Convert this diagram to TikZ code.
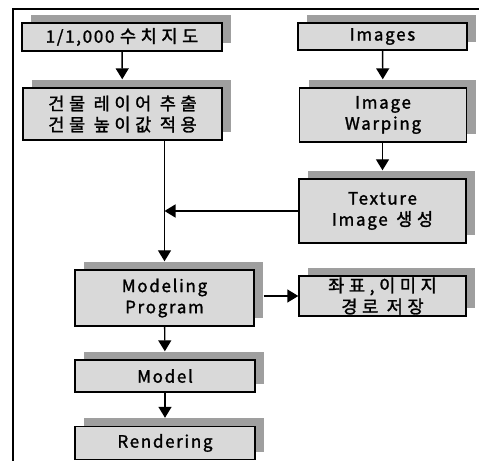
\documentclass[tikz,border=0pt]{standalone}
\usepackage{fontspec}
\setmainfont[LetterSpace=10,FakeBold=1.5]{Noto Sans CJK KR}
\newfontfamily\kor[LetterSpace=26,FakeBold=1.5]{Noto Sans CJK KR}
\usepackage{tikz}
\usetikzlibrary{positioning}
\usetikzlibrary{shadows}
\usetikzlibrary{arrows.meta}
\usepackage{xcolor}

\newcommand{\hk}[1]{{\kor\fontsize{15}{18}\selectfont #1}}

\begin{document}
\begin{tikzpicture}[
    x=0.03cm, y=-0.03cm,
    box/.style={rectangle, draw, line width=1.2pt, fill=gray!30, inner sep=0pt,
        align=center, font=\fontsize{14.5}{18}\selectfont,
        general shadow={fill=gray!75, shadow xshift=0.27cm, shadow yshift=0.24cm}},
    arrow/.style={-{Triangle[width=0.39cm,length=0.33cm]}, line width=1.2pt},
    frame/.style={line width=1pt}
]
    \useasboundingbox (0,0) rectangle (479,461);

    % Frame
    \draw[frame] (13,461) -- (13,9) -- (479,9);

    % Left column: map data
    \node[box, minimum width=6cm, minimum height=0.84cm] (map) at (122,37) {1/1,000 \hk{수치지도}};
    \node[box, minimum width=5.97cm, minimum height=1.56cm] (layer) at (122.5,114) {\hk{건물 레이어 추출}\\\hk{건물 높이값 적용}};

    % Right column: images
    \node[box, minimum width=5.07cm, minimum height=0.81cm] (images) at (382.5,36.5) {Images};
    \node[box, minimum width=5.01cm, minimum height=1.62cm] (warp) at (383,115) {Image\\Warping};
    \node[box, minimum width=5.01cm, minimum height=1.92cm] (texture) at (382.5,211) {Texture\\Image\hk{ 생성}};

    % Modeling and output
    \node[box, minimum width=5.37cm, minimum height=1.68cm] (modeling) at (164.5,298) {Modeling\\Program};
    \node[box, minimum width=5.01cm, minimum height=1.2cm] (coord) at (382.5,296) {\hk{좌표,이미지}\\\hk{경로 저장}};
    \node[box, minimum width=5.4cm, minimum height=0.96cm] (model) at (165,376) {Model};
    \node[box, minimum width=5.4cm, minimum height=0.99cm] (render) at (165,443) {Rendering};

    % Arrows
    \coordinate (join) at (modeling.north |- texture.west);
    \draw[arrow, shorten >=0.24cm] (map) -- (layer);
    \draw[arrow, shorten >=0.24cm] (images) -- (warp);
    \draw[arrow, shorten >=0.24cm] (warp.south -| texture.north) -- (texture.north);
    \draw[arrow, shorten >=0.24cm] (layer.south -| modeling.north) -- (modeling.north);
    \draw[arrow] (texture.west) -- (join);
    \draw[arrow, shorten <=0.27cm] (modeling.east |- coord.west) -- (coord.west);
    \draw[arrow, shorten >=0.24cm] (modeling) -- (model);
    \draw[arrow, shorten >=0.24cm] (model) -- (render);
\end{tikzpicture}
\end{document}
